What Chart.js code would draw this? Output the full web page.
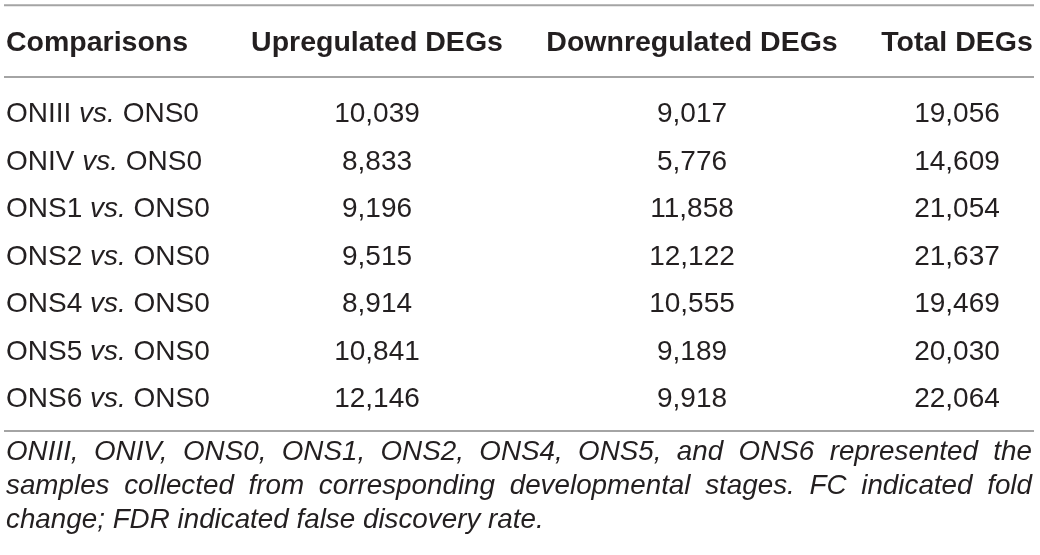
<!DOCTYPE html>
<html>
<head>
<meta charset="utf-8">
<script src="https://cdn.jsdelivr.net/npm/chart.js@4/dist/chart.umd.min.js"></script>
<style>
html,body{margin:0;padding:0;background:#fff;}
#wrap{width:1040px;height:555px;}
</style>
</head>
<body>
<div id="wrap"><canvas id="c" width="1040" height="555"></canvas></div>
<script>
// ---- data ----
const columns = ['Comparisons', 'Upregulated DEGs', 'Downregulated DEGs', 'Total DEGs'];
const comparisons = ['ONIII', 'ONIV', 'ONS1', 'ONS2', 'ONS4', 'ONS5', 'ONS6'];
const reference = 'ONS0';
const upregulated = [10039, 8833, 9196, 9515, 8914, 10841, 12146];
const downregulated = [9017, 5776, 11858, 12122, 10555, 9189, 9918];
const totalDEGs = [19056, 14609, 21054, 21637, 19469, 20030, 22064];
const footnoteLines = [
  'ONIII, ONIV, ONS0, ONS1, ONS2, ONS4, ONS5, and ONS6 represented the',
  'samples collected from corresponding developmental stages. FC indicated fold',
  'change; FDR indicated false discovery rate.'
];

// ---- layout (not data) ----
const TEXT = '#231f20';
const RULE = '#a4a4a4';
const FONT = '"Liberation Sans", Arial, Helvetica, sans-serif';
const colX = [6, 377, 692, 957];
const colAlign = ['left', 'center', 'center', 'center'];
const headerRow = -1.5;
const ruleRows = [-2.46, -0.947, 6.505];
const footRows = [7.116, 7.83, 8.55];
const ruleX0 = 4, ruleX1 = 1034;
const footLeft = 6, footRight = 1032;

const fmt = v => v.toLocaleString('en-US');
const numberCols = [upregulated, downregulated, totalDEGs];

// cell points (header + body)
const cellPoints = [];
columns.forEach((h, c) => cellPoints.push({x: colX[c], y: headerRow, kind: 'header', col: c, text: h}));
comparisons.forEach((name, r) => {
  cellPoints.push({x: colX[0], y: r, kind: 'label', col: 0, text: name});
  numberCols.forEach((arr, k) => {
    cellPoints.push({x: colX[k + 1], y: r, kind: 'num', col: k + 1, text: fmt(arr[r])});
  });
});
footnoteLines.forEach((t, i) => cellPoints.push({x: footLeft, y: footRows[i], kind: 'foot', idx: i, text: t}));

const ruleSets = ruleRows.map(v => ({
  type: 'line',
  data: [{x: ruleX0, y: v}, {x: ruleX1, y: v}],
  borderColor: RULE,
  borderWidth: 2,
  pointRadius: 0,
  showLine: true,
  clip: false
}));

const tablePlugin = {
  id: 'tableText',
  afterDatasetsDraw(chart) {
    const ctx = chart.ctx;
    const dsIndex = chart.data.datasets.length - 1;
    const meta = chart.getDatasetMeta(dsIndex);
    ctx.save();
    ctx.fillStyle = TEXT;
    ctx.textBaseline = 'alphabetic';
    meta.data.forEach((el, i) => {
      const p = chart.data.datasets[dsIndex].data[i];
      const x = el.x, y = el.y;
      if (p.kind === 'header') {
        ctx.font = 'bold 28.5px ' + FONT;
        ctx.textAlign = colAlign[p.col];
        ctx.fillText(p.text, x, y);
      } else if (p.kind === 'num') {
        ctx.font = '28px ' + FONT;
        ctx.textAlign = colAlign[p.col];
        ctx.fillText(p.text, x, y);
      } else if (p.kind === 'label') {
        ctx.textAlign = 'left';
        const segs = [[p.text + ' ', '28px '], ['vs.', 'italic 28px '], [' ' + reference, '28px ']];
        let cx = x;
        segs.forEach(([t, f]) => {
          ctx.font = f + FONT;
          ctx.fillText(t, cx, y);
          cx += ctx.measureText(t).width;
        });
      } else if (p.kind === 'foot') {
        ctx.font = 'italic 27.8px ' + FONT;
        ctx.textAlign = 'left';
        const words = p.text.split(' ');
        const justify = p.idx < footnoteLines.length - 1;
        if (justify) {
          const ws = words.map(w => ctx.measureText(w).width);
          const total = ws.reduce((a, b) => a + b, 0);
          const gap = (footRight - footLeft - total) / (words.length - 1);
          let cx = x;
          words.forEach((w, k) => { ctx.fillText(w, cx, y); cx += ws[k] + gap; });
        } else {
          ctx.fillText(p.text, x, y);
        }
      }
    });
    ctx.restore();
  }
};

new Chart(document.getElementById('c'), {
  type: 'scatter',
  data: {
    datasets: [
      ...ruleSets,
      {type: 'scatter', data: cellPoints, pointRadius: 0, pointHoverRadius: 0, clip: false}
    ]
  },
  options: {
    responsive: false,
    animation: false,
    devicePixelRatio: 1,
    events: [],
    layout: {padding: 0},
    plugins: {legend: {display: false}, tooltip: {enabled: false}, title: {display: false}},
    scales: {
      x: {type: 'linear', min: 0, max: 1040, display: false},
      y: {type: 'linear', min: -122 / 47.5, max: (555 - 122) / 47.5, reverse: true, display: false}
    }
  },
  plugins: [tablePlugin]
});
</script>
</body>
</html>
